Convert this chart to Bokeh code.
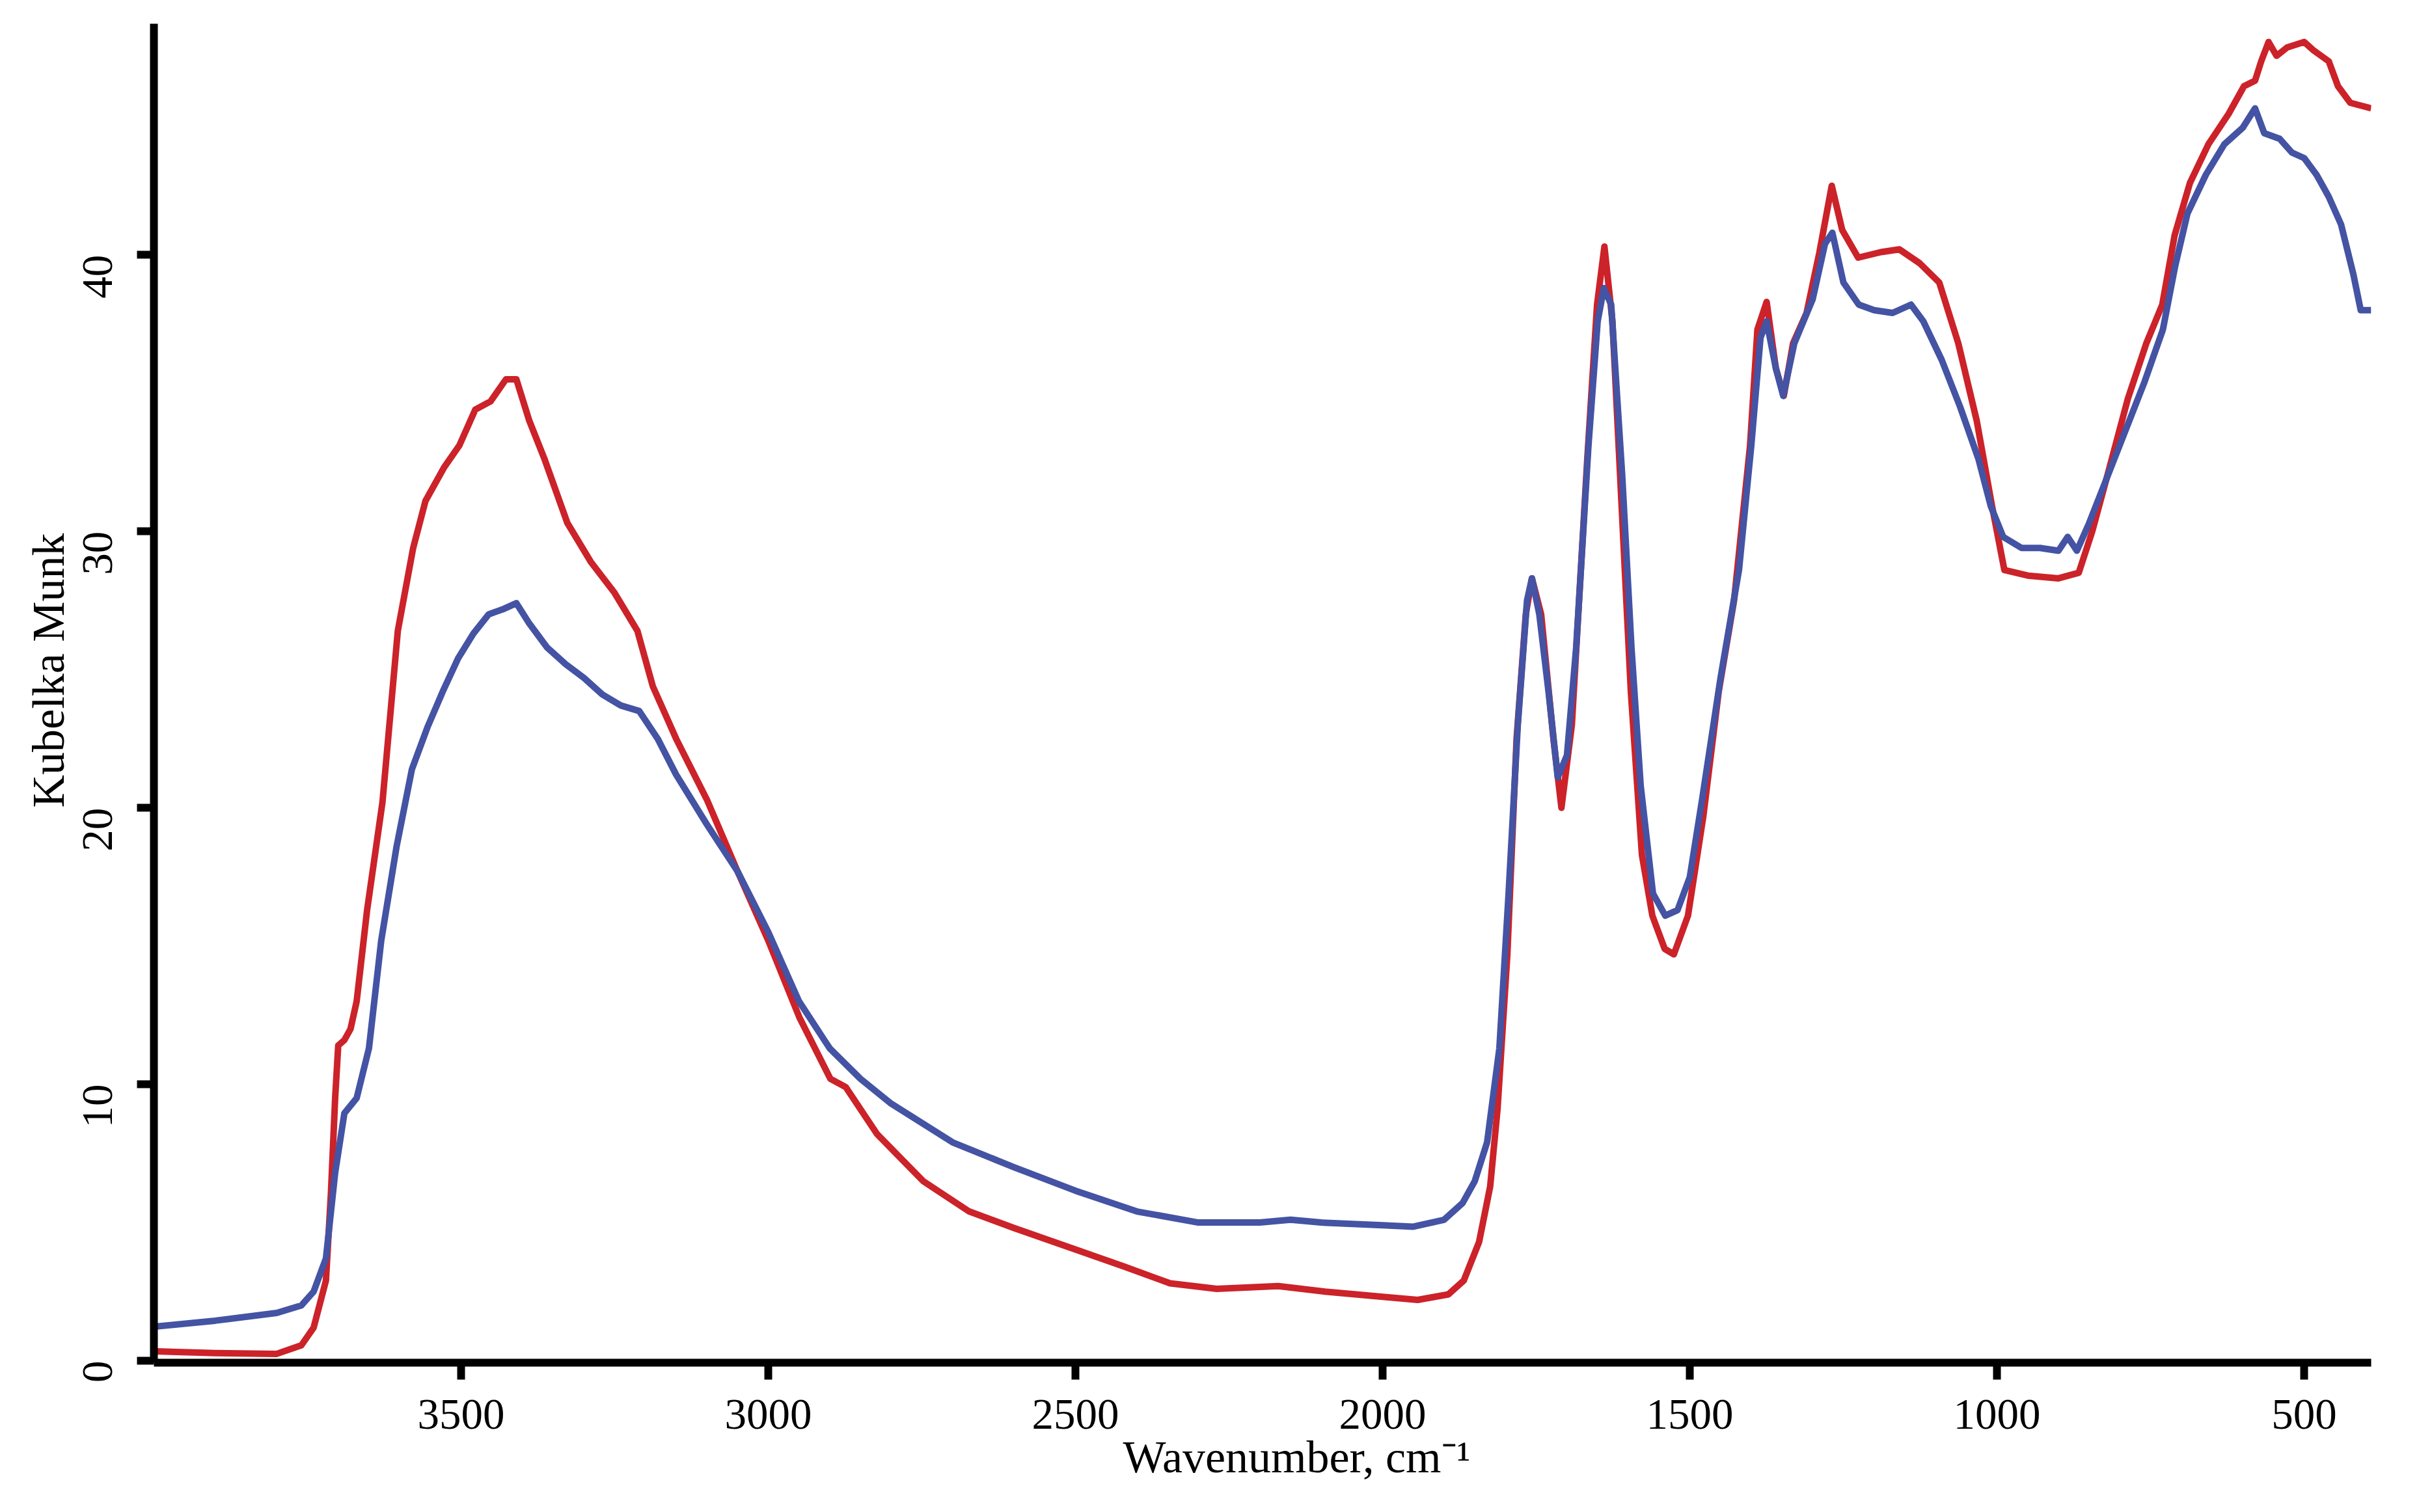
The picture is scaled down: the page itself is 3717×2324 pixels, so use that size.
import math
from bokeh.plotting import figure
from bokeh.models import Range1d, FixedTicker
from bokeh.embed import file_html
from bokeh.resources import INLINE

# Wavenumber (cm-1) and Kubelka-Munk values
red_wn = [4000, 3900, 3800, 3760, 3740, 3720, 3712, 3705, 3700, 3690, 3680, 3670, 3653, 3628, 3603,
          3578, 3558, 3528, 3503, 3477, 3452, 3427, 3410, 3389, 3364, 3327, 3289, 3251, 3213, 3188,
          3150, 3100, 3050, 3000, 2949, 2899, 2874, 2823, 2748, 2673, 2600, 2497, 2420, 2346, 2270,
          2170, 2094, 1994, 1943, 1893, 1868, 1843, 1825, 1813, 1797, 1782, 1767, 1757, 1742, 1722,
          1709, 1692, 1667, 1651, 1639, 1626, 1611, 1596, 1578, 1561, 1541, 1526, 1503, 1478, 1453,
          1428, 1402, 1390, 1375, 1360, 1347, 1332, 1310, 1289, 1269, 1252, 1226, 1189, 1159, 1126,
          1094, 1063, 1033, 1008, 988, 950, 900, 867, 845, 817, 787, 757, 731, 711, 686,
          656, 623, 598, 580, 570, 558, 545, 528, 500, 485, 460, 445, 425, 391]
red_km = [0.34, 0.28, 0.25, 0.56, 1.2, 2.9, 6.0, 9.5, 11.4, 11.6, 12.0, 13.0, 16.3, 20.2, 26.4,
          29.4, 31.1, 32.3, 33.1, 34.4, 34.7, 35.5, 35.5, 34.0, 32.6, 30.3, 28.9, 27.8, 26.4, 24.4,
          22.5, 20.3, 17.7, 15.2, 12.4, 10.2, 9.9, 8.2, 6.5, 5.4, 4.8, 4.0, 3.4, 2.8, 2.6,
          2.7, 2.5, 2.3, 2.2, 2.4, 2.9, 4.3, 6.3, 9.1, 14.7, 22.5, 27.0, 28.3, 27.0, 22.5,
          20.0, 23.0, 32.6, 38.2, 40.3, 37.6, 30.9, 24.2, 18.3, 16.1, 14.9, 14.7, 16.1, 19.7, 24.2,
          27.5, 33.1, 37.3, 38.3, 35.9, 34.9, 36.8, 37.9, 40.1, 42.5, 40.9, 39.9, 40.1, 40.2, 39.7,
          39.0, 36.8, 34.0, 30.9, 28.6, 28.4, 28.3, 28.5, 30.0, 32.3, 34.8, 36.8, 38.2, 40.7, 42.6,
          44.0, 45.1, 46.1, 46.3, 47.0, 47.7, 47.2, 47.5, 47.7, 47.4, 47.0, 46.1, 45.5, 45.3]

blue_wn = [4000, 3900, 3800, 3760, 3740, 3720, 3705, 3690, 3670, 3650, 3630, 3605, 3580, 3555, 3530,
           3505, 3480, 3455, 3430, 3410, 3390, 3360, 3330, 3300, 3270, 3240, 3210, 3180, 3150, 3100,
           3050, 3000, 2950, 2900, 2850, 2800, 2700, 2600, 2500, 2400, 2300, 2200, 2150, 2100, 2000,
           1950, 1900, 1870, 1850, 1830, 1810, 1795, 1780, 1765, 1757, 1745, 1730, 1715, 1700, 1685,
           1665, 1650, 1640, 1628, 1610, 1595, 1580, 1560, 1540, 1520, 1500, 1480, 1450, 1420, 1400,
           1385, 1375, 1360, 1348, 1330, 1300, 1280, 1268, 1250, 1225, 1200, 1170, 1140, 1120, 1090,
           1060, 1030, 1010, 990, 960, 930, 900, 885, 870, 850, 820, 790, 760, 730, 710,
           690, 660, 630, 600, 580, 565, 540, 520, 500, 480, 460, 440, 420, 408, 391]
blue_km = [1.23, 1.45, 1.73, 2.0, 2.5, 3.7, 6.8, 8.95, 9.5, 11.3, 15.2, 18.6, 21.4, 22.9, 24.2,
           25.4, 26.3, 27.0, 27.2, 27.4, 26.7, 25.8, 25.2, 24.7, 24.1, 23.7, 23.5, 22.5, 21.2, 19.4,
           17.7, 15.5, 13.0, 11.3, 10.2, 9.3, 7.9, 7.0, 6.15, 5.4, 5.0, 5.0, 5.1, 5.0, 4.9,
           4.85, 5.1, 5.7, 6.5, 7.9, 11.3, 16.9, 23.0, 27.5, 28.3, 27.0, 24.2, 21.1, 21.9, 25.8,
           33.1, 37.6, 38.8, 38.2, 32.0, 25.8, 20.8, 16.9, 16.1, 16.3, 17.5, 20.3, 24.7, 28.6, 33.1,
           37.0, 37.6, 35.9, 34.9, 36.8, 38.4, 40.4, 40.8, 39.0, 38.2, 38.0, 37.9, 38.2, 37.6, 36.2,
           34.5, 32.6, 30.9, 29.8, 29.4, 29.4, 29.3, 29.8, 29.3, 30.3, 32.0, 33.7, 35.4, 37.3, 39.6,
           41.5, 42.9, 44.0, 44.6, 45.3, 44.4, 44.2, 43.7, 43.5, 42.9, 42.1, 41.1, 39.3, 38.0, 38.0]

x_ticks = [3500, 3000, 2500, 2000, 1500, 1000, 500]
y_ticks = [0, 10, 20, 30, 40]
x_title = "Wavenumber, cm⁻¹"
y_title = "Kubelka Munk"

FONT = "Liberation Serif"
NBSP = "\u00a0"

p = figure(width=3700, height=2316, output_backend="svg", toolbar_location=None,
           x_range=Range1d(4000, 391), y_range=Range1d(-0.07, 48.36),
           min_border_left=236, min_border_right=57, min_border_top=36, min_border_bottom=222)
p.outline_line_color = None
p.grid.visible = False
p.background_fill_color = "white"
p.border_fill_color = "white"

p.line(red_wn, red_km, line_color="#CC2229", line_width=10, line_join="round")
p.line(blue_wn, blue_km, line_color="#4453A3", line_width=10, line_join="round")

for ax in (p.xaxis[0], p.yaxis[0]):
    ax.axis_line_width = 12
    ax.axis_line_color = "black"
    ax.major_tick_line_width = 12
    ax.major_tick_line_color = "black"
    ax.major_tick_in = 0
    ax.major_tick_out = 26
    ax.minor_tick_line_color = None
    ax.major_label_text_font = FONT
    ax.major_label_text_font_size = "67px"
    ax.major_label_text_color = "black"
    ax.axis_label_text_font = FONT
    ax.axis_label_text_font_size = "70px"
    ax.axis_label_text_font_style = "normal"
    ax.axis_label_text_color = "black"

p.xaxis.ticker = FixedTicker(ticks=x_ticks)
p.yaxis.ticker = FixedTicker(ticks=y_ticks)
p.yaxis.major_label_orientation = math.pi / 2
p.xaxis.major_label_standoff = 31
p.yaxis.major_label_standoff = 60

# titles sit off-centre in the reference: pad with non-breaking spaces
p.xaxis.axis_label = NBSP * 6 + x_title
p.yaxis.axis_label = NBSP * 4 + y_title
p.xaxis.axis_label_standoff = 2
p.yaxis.axis_label_standoff = -9

open("out.html", "w").write(file_html(p, INLINE))
